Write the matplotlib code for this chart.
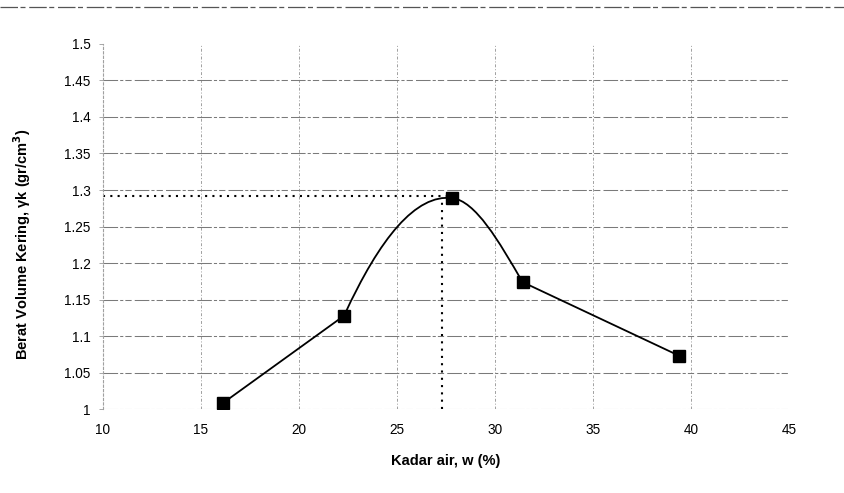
import matplotlib
matplotlib.use("Agg")
import matplotlib.pyplot as plt
from matplotlib.path import Path
from matplotlib.patches import PathPatch
from matplotlib.lines import Line2D

plt.rcParams['font.family'] = ['Liberation Sans', 'DejaVu Sans']

# Compaction test results
water_content = [16.1, 22.3, 27.8, 31.4, 39.4]      # Kadar air, w (%)
dry_density = [1.008, 1.128, 1.289, 1.174, 1.073]   # gamma_k (gr/cm3)

# Optimum
w_opt = 27.3
gamma_max = 1.292

x_ticks = [10, 15, 20, 25, 30, 35, 40, 45]
y_ticks = [1.0, 1.05, 1.1, 1.15, 1.2, 1.25, 1.3, 1.35, 1.4, 1.45, 1.5]
y_tick_labels = ['1', '1.05', '1.1', '1.15', '1.2', '1.25', '1.3', '1.35', '1.4', '1.45', '1.5']

fig = plt.figure(figsize=(8.44, 4.93), dpi=100)
ax = fig.add_axes([0.122, 0.170, 0.813, 0.741])

ax.set_xlim(10, 45)
ax.set_ylim(1.0, 1.5)
ax.set_xticks(x_ticks)
ax.set_xticklabels([str(v) for v in x_ticks])
ax.set_yticks(y_ticks)
ax.set_yticklabels(y_tick_labels)
ax.tick_params(axis='x', length=0, pad=10, labelsize=9.8)
ax.tick_params(axis='y', length=3, width=0.6, color='#999999', pad=6, labelsize=9.8)

# gridlines
for xv in x_ticks[1:]:
    ax.axvline(xv, color='#a0a0a0', lw=0.7, ls=(0, (3, 2, 1, 2)), zorder=1)
for yv in y_ticks[:-1]:
    ax.axhline(yv, color='#7a7a7a', lw=0.75, ls=(0, (14, 2, 3, 2, 6, 3)), zorder=1)

for side in ['top', 'right', 'bottom']:
    ax.spines[side].set_visible(False)
ax.spines['left'].set_color('#a0a0a0')
ax.spines['left'].set_linewidth(0.8)
ax.spines['left'].set_linestyle((0, (2, 2)))


# Smoothed connecting curve built from cubic Bezier segments through the points
def seg_controls(p0, p1, m0, m1):
    h = p1[0] - p0[0]
    c1 = (p0[0] + h / 3.0, p0[1] + m0 * h / 3.0)
    c2 = (p1[0] - h / 3.0, p1[1] - m1 * h / 3.0)
    return c1, c2


pts = list(zip(water_content, dry_density))
chords = [(pts[i + 1][1] - pts[i][1]) / (pts[i + 1][0] - pts[i][0]) for i in range(len(pts) - 1)]
peak_slope = -0.1 * chords[1]
slopes = [
    (chords[0], chords[0]),
    (2.0 * chords[1], peak_slope),
    (peak_slope, 1.45 * chords[2]),
    (chords[3], chords[3]),
]

verts = [pts[0]]
codes = [Path.MOVETO]
for i, (m0, m1) in enumerate(slopes):
    c1, c2 = seg_controls(pts[i], pts[i + 1], m0, m1)
    verts += [c1, c2, pts[i + 1]]
    codes += [Path.CURVE4] * 3
ax.add_patch(PathPatch(Path(verts, codes), facecolor='none', edgecolor='black', lw=1.3, zorder=3))

ax.plot(water_content, dry_density, ls='none', marker='s', ms=8, color='black', zorder=4)

# optimum water content / maximum dry density guides
ax.plot([w_opt, w_opt], [1.0, gamma_max - 0.006], color='black', lw=1.5, ls=(0, (1, 2.5)), zorder=2)
ax.plot([10, w_opt + 0.3], [gamma_max, gamma_max], color='black', lw=1.5, ls=(0, (1, 2.5)), zorder=2)

ax.set_xlabel('Kadar air, w (%)', fontsize=10.5, fontweight='bold', labelpad=12)
fig.text(22 / 844, 1 - 244 / 493, 'Berat Volume Kering, γk (gr/cm$^\\mathbf{3}$)',
         rotation=90, ha='center', va='center', fontsize=10.5, fontweight='bold')

# page border line along the top
fig.add_artist(Line2D([0.0, 1.0], [1 - 7 / 493, 1 - 7 / 493], transform=fig.transFigure,
                      color='#555555', lw=0.9, ls=(0, (14, 2, 4, 3))))

fig.savefig('out.png', dpi=100)
